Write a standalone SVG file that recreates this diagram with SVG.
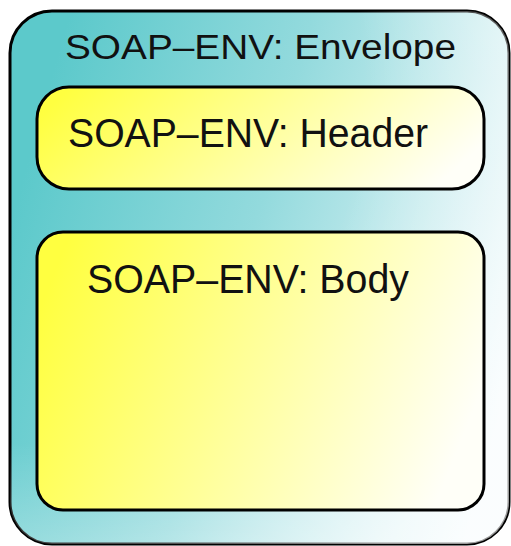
<svg xmlns="http://www.w3.org/2000/svg" width="511" height="546" viewBox="0 0 511 546">
<style>
.box{stroke:#000;stroke-width:3}
.lbl{font-family:"Liberation Sans",Arial,sans-serif;fill:#111}
</style>
<defs>
<linearGradient id="env" x1="0" y1="0.4" x2="1" y2="0.7">
<stop offset="0" stop-color="#5cc9cb"/>
<stop offset="0.45" stop-color="#93dadd"/>
<stop offset="1" stop-color="#f4fbfd"/>
</linearGradient>
<radialGradient id="envfade" cx="0.05" cy="0.15" r="1.1">
<stop offset="0.6" stop-color="#ffffff" stop-opacity="0"/>
<stop offset="1" stop-color="#ffffff" stop-opacity="0.6"/>
</radialGradient>
<linearGradient id="yel" x1="0" y1="0.3" x2="1" y2="0.55">
<stop offset="0" stop-color="#ffff40"/>
<stop offset="0.5" stop-color="#ffff9c"/>
<stop offset="1" stop-color="#fffff8"/>
</linearGradient>
</defs>
<g id="envelope">
<rect class="box" x="10" y="11" width="499" height="533" rx="42" fill="url(#env)"/>
<rect x="10" y="11" width="499" height="533" rx="42" fill="url(#envfade)"/>
<text class="lbl" x="65" y="59" font-size="35" textLength="391" lengthAdjust="spacingAndGlyphs">SOAP–ENV: Envelope</text>
</g>
<g id="header">
<rect class="box" x="37" y="87" width="447" height="102" rx="32" fill="url(#yel)"/>
<text class="lbl" x="68" y="147" font-size="40" textLength="360" lengthAdjust="spacingAndGlyphs">SOAP–ENV: Header</text>
</g>
<g id="body">
<rect class="box" x="37" y="232" width="447" height="278" rx="26" fill="url(#yel)"/>
<text class="lbl" x="87" y="293" font-size="40" textLength="322" lengthAdjust="spacingAndGlyphs">SOAP–ENV: Body</text>
</g>
<g id="connectors"/>
</svg>
